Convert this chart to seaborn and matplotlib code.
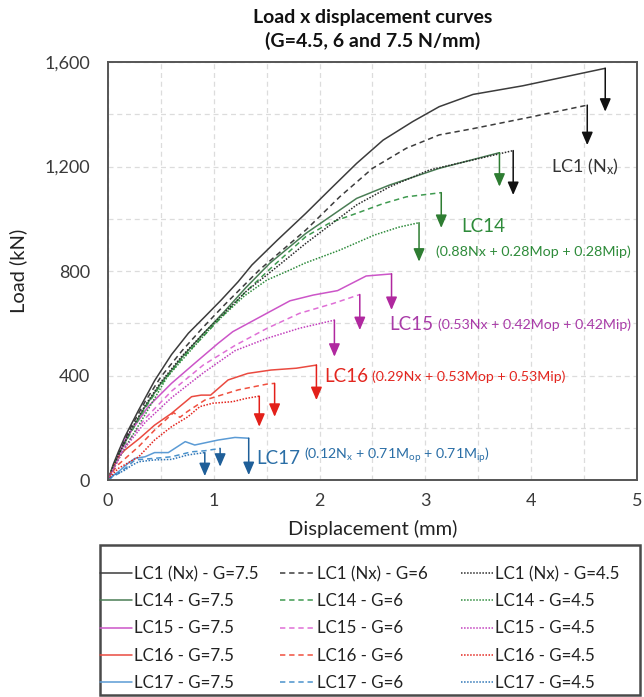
import matplotlib
matplotlib.use("Agg")
import matplotlib.pyplot as plt
import matplotlib.patches as mpatches
import seaborn as sns
from matplotlib.ticker import MultipleLocator, FuncFormatter

# ---- data: load (kN) vs displacement (mm) ----
# LC1 (Nx)
lc1_75_x = [0, 0.05, 0.10, 0.16, 0.29, 0.44, 0.60, 0.76, 0.915, 1.07, 1.23, 1.36, 1.60, 1.87, 2.11, 2.35, 2.60, 2.88, 3.13, 3.45, 3.92, 4.70]
lc1_75_y = [0, 60, 110, 166, 268, 380, 480, 562, 625, 689, 759, 823, 918, 1021, 1117, 1212, 1301, 1372, 1429, 1476, 1509, 1576]
lc1_6_x = [0, 0.05, 0.10, 0.20, 0.35, 0.50, 0.70, 0.90, 1.10, 1.43, 1.87, 2.19, 2.50, 2.82, 3.13, 3.45, 3.99, 4.53]
lc1_6_y = [0, 55, 100, 190, 300, 395, 495, 585, 670, 804, 957, 1084, 1193, 1270, 1321, 1345, 1389, 1435]
lc1_45_x = [0, 0.05, 0.10, 0.20, 0.35, 0.50, 0.70, 0.90, 1.10, 1.30, 1.56, 1.87, 2.35, 2.66, 3.04, 3.50, 3.83]
lc1_45_y = [0, 52, 96, 180, 285, 375, 475, 560, 640, 720, 804, 906, 1053, 1122, 1187, 1230, 1261]

# LC14
lc14_75_x = [0, 0.05, 0.10, 0.20, 0.35, 0.50, 0.70, 0.90, 1.10, 1.30, 1.53, 1.87, 2.35, 2.66, 3.13, 3.70]
lc14_75_y = [0, 50, 95, 175, 280, 370, 470, 560, 645, 735, 830, 944, 1078, 1129, 1193, 1253]
lc14_6_x = [0, 0.05, 0.10, 0.20, 0.35, 0.50, 0.70, 0.90, 1.10, 1.30, 1.55, 1.87, 2.10, 2.35, 2.60, 2.82, 3.15]
lc14_6_y = [0, 50, 92, 170, 275, 365, 465, 550, 635, 720, 815, 932, 985, 1021, 1058, 1084, 1100]
lc14_45_x = [0, 0.05, 0.10, 0.20, 0.35, 0.56, 0.80, 1.01, 1.29, 1.50, 1.72, 1.86, 2.19, 2.52, 2.75, 2.94]
lc14_45_y = [0, 40, 80, 150, 250, 395, 505, 600, 705, 765, 804, 830, 880, 938, 968, 985]

# LC15
lc15_75_x = [0, 0.05, 0.16, 0.38, 0.60, 0.82, 1.04, 1.18, 1.50, 1.72, 1.94, 2.17, 2.44, 2.68]
lc15_75_y = [0, 45, 153, 281, 370, 447, 523, 568, 638, 686, 708, 725, 781, 789]
lc15_6_x = [0, 0.05, 0.15, 0.35, 0.60, 0.90, 1.20, 1.50, 1.81, 2.13, 2.38]
lc15_6_y = [0, 42, 125, 235, 340, 440, 515, 580, 638, 676, 710]
lc15_45_x = [0, 0.05, 0.15, 0.35, 0.60, 0.90, 1.20, 1.50, 1.81, 2.14]
lc15_45_y = [0, 40, 118, 220, 315, 410, 495, 542, 581, 612]

# LC16
lc16_75_x = [0, 0.05, 0.10, 0.16, 0.30, 0.44, 0.60, 0.79, 0.88, 0.97, 1.135, 1.32, 1.54, 1.78, 1.97]
lc16_75_y = [0, 50, 89, 115, 160, 210, 255, 319, 325, 325, 383, 408, 421, 428, 440]
lc16_6_x = [0, 0.05, 0.10, 0.29, 0.44, 0.55, 0.62, 0.68, 0.75, 0.915, 1.23, 1.50, 1.575]
lc16_6_y = [0, 35, 60, 128, 191, 232, 258, 240, 262, 306, 345, 367, 370]
lc16_45_x = [0, 0.05, 0.10, 0.29, 0.44, 0.60, 0.755, 0.868, 0.99, 1.18, 1.30, 1.43]
lc16_45_y = [0, 25, 45, 89, 153, 204, 242, 281, 294, 300, 312, 321]

# LC17
lc17_75_x = [0, 0.05, 0.10, 0.19, 0.255, 0.35, 0.44, 0.57, 0.73, 0.82, 1.04, 1.20, 1.33]
lc17_75_y = [0, 18, 32, 64, 83, 89, 105, 105, 147, 134, 153, 163, 160]
lc17_6_x = [0, 0.05, 0.10, 0.18, 0.255, 0.44, 0.60, 0.79, 0.915, 1.06]
lc17_6_y = [0, 14, 25, 50, 77, 83, 89, 108, 112, 121]
lc17_45_x = [0, 0.06, 0.12, 0.16, 0.22, 0.29, 0.44, 0.60, 0.755, 0.915]
lc17_45_y = [0, 20, 30, 38, 55, 70, 77, 79, 96, 105]

# load level reached by the failure arrows (kN), per curve
drop_lc1 = [1410, 1282, 1091]
drop_lc14 = [1123, 965, 836]
drop_lc15 = [651, 574, 472]
drop_lc16 = [306, 242, 204]
drop_lc17 = [19, 51, 15]

g_values = ["7.5", "6", "4.5"]
case_names = ["LC1 (Nx)", "LC14", "LC15", "LC16", "LC17"]

# ---- styling ----
sns.set_theme(style="white")
plt.rcParams["font.family"] = ["Lato", "DejaVu Sans"]
plt.rcParams["mathtext.fontset"] = "custom"
plt.rcParams["mathtext.rm"] = "Lato"
plt.rcParams["mathtext.it"] = "Lato:italic"
plt.rcParams["mathtext.bf"] = "Lato:bold"

line_colors = {
    "LC1 (Nx)": ["#3c3c3c", "#3c3c3c", "#2a2a2a"],
    "LC14": ["#4a7d55", "#3f9a50", "#2e8b3c"],
    "LC15": ["#cc55c8", "#df6fd6", "#c23fbd"],
    "LC16": ["#ea4a40", "#f0503f", "#e3261f"],
    "LC17": ["#5b9bd5", "#4a92cc", "#2e75b6"],
}
arrow_colors = {
    "LC1 (Nx)": "#111111",
    "LC14": "#2e7d32",
    "LC15": "#b0289f",
    "LC16": "#e3201a",
    "LC17": "#1f5f99",
}
text_colors = {
    "LC1 (Nx)": "#333333",
    "LC14": "#2e8b3a",
    "LC15": "#a93ca8",
    "LC16": "#e3261f",
    "LC17": "#2a6ea6",
}
styles = ["-", (0, (3.5, 2.5)), (0, (1, 1))]

series = {
    "LC1 (Nx)": [(lc1_75_x, lc1_75_y), (lc1_6_x, lc1_6_y), (lc1_45_x, lc1_45_y)],
    "LC14": [(lc14_75_x, lc14_75_y), (lc14_6_x, lc14_6_y), (lc14_45_x, lc14_45_y)],
    "LC15": [(lc15_75_x, lc15_75_y), (lc15_6_x, lc15_6_y), (lc15_45_x, lc15_45_y)],
    "LC16": [(lc16_75_x, lc16_75_y), (lc16_6_x, lc16_6_y), (lc16_45_x, lc16_45_y)],
    "LC17": [(lc17_75_x, lc17_75_y), (lc17_6_x, lc17_6_y), (lc17_45_x, lc17_45_y)],
}
drops = {
    "LC1 (Nx)": drop_lc1, "LC14": drop_lc14, "LC15": drop_lc15,
    "LC16": drop_lc16, "LC17": drop_lc17,
}

fig = plt.figure(figsize=(6.44, 6.97), dpi=100)
ax = fig.add_axes([0.1677, 0.3113, 0.8214, 0.5997])

handles = {}
for gi, g in enumerate(g_values):
    for name in case_names:
        xs, ys = series[name][gi]
        sns.lineplot(x=xs, y=ys, ax=ax, color=line_colors[name][gi],
                     linestyle=styles[gi], linewidth=1.1, sort=False,
                     estimator=None)
        handles[(name, gi)] = ax.get_lines()[-1]
        # failure arrow from the end of the curve
        ax.annotate("", xy=(xs[-1], drops[name][gi]), xytext=(xs[-1], ys[-1]),
                    arrowprops=dict(arrowstyle="-|>,head_length=0.65,head_width=0.28",
                                    color=arrow_colors[name], lw=1.1,
                                    shrinkA=0, shrinkB=0))

# ---- axes ----
ax.set_xlim(0, 5)
ax.set_ylim(0, 1600)
ax.xaxis.set_major_locator(MultipleLocator(0.5))
ax.yaxis.set_major_locator(MultipleLocator(200))
ax.xaxis.set_major_formatter(FuncFormatter(lambda v, p: f"{v:.0f}" if abs(v - round(v)) < 1e-6 else ""))
ax.yaxis.set_major_formatter(FuncFormatter(lambda v, p: f"{v:,.0f}" if int(round(v)) % 400 == 0 else ""))
ax.tick_params(axis="both", direction="in", length=5, width=1.0, color="#555555",
               labelsize=13, labelcolor="#3a3a3a")
ax.tick_params(axis="y", pad=13)
ax.tick_params(axis="x", pad=9)
ax.grid(True, linestyle=(0, (4, 3)), color="#dcdcdc", linewidth=0.9)
for sp in ax.spines.values():
    sp.set_color("#555555")
    sp.set_linewidth(1.4)

ax.set_xlabel("Displacement (mm)", fontsize=14.5, color="#222222", labelpad=8)
ax.set_ylabel("Load (kN)", fontsize=14.5, color="#222222", labelpad=12)

fig.text(0.578, 0.958, "Load x displacement curves\n(G=4.5, 6 and 7.5 N/mm)",
         ha="center", va="center", fontsize=14, fontweight="bold",
         linespacing=1.4, color="#111111")

# ---- curve labels ----
ax.text(4.19, 1199, r"LC1 (N$_{\mathrm{x}}$)", fontsize=13, color=text_colors["LC1 (Nx)"],
        ha="left", va="center")
ax.text(3.34, 970, "LC14", fontsize=13.5, color=text_colors["LC14"], ha="left", va="center")
ax.text(3.10, 874, "(0.88Nx + 0.28Mop + 0.28Mip)", fontsize=10.3, color=text_colors["LC14"],
        ha="left", va="center")


def case_label(x, y, head, formula, color):
    t = ax.text(x, y, head, fontsize=13.5, color=color, ha="left", va="center")
    ax.annotate(formula, xy=(1, 0), xycoords=t, xytext=(3, 1.5),
                textcoords="offset points", fontsize=10.2, color=color,
                ha="left", va="bottom")


case_label(2.66, 595, "LC15", "(0.53Nx + 0.42Mop + 0.42Mip)", text_colors["LC15"])
case_label(2.04, 395, "LC16", "(0.29Nx + 0.53Mop + 0.53Mip)", text_colors["LC16"])
case_label(1.40, 83, "LC17",
           r"(0.12N$_{\mathrm{x}}$ + 0.71M$_{\mathrm{op}}$ + 0.71M$_{\mathrm{ip}}$)",
           text_colors["LC17"])

# ---- legend: one column per G value inside a common frame ----
W, H = 644.0, 697.0
frame = mpatches.Rectangle((100 / W, 1 - 695 / H), 540 / W, 150 / H,
                           transform=fig.transFigure, fill=False,
                           edgecolor="#4a4a4a", linewidth=1.8)
fig.patches.append(frame)

col_left_px = [100, 280, 461]
col_handle_len = [1.9, 2.05, 1.9]
for gi, g in enumerate(g_values):
    hs = [handles[(name, gi)] for name in case_names]
    ls = [f"{name} - G={g}" for name in case_names]
    leg = fig.legend(hs, ls, loc="upper left",
                     bbox_to_anchor=(col_left_px[gi] / W, 1 - 566 / H),
                     ncol=1, fontsize=12.2, frameon=False,
                     handlelength=col_handle_len[gi], handletextpad=0.12,
                     labelspacing=0.66, borderaxespad=0.0, borderpad=0.0)
    for txt in leg.get_texts():
        txt.set_color("#222222")

fig.savefig("out.png", dpi=100)
